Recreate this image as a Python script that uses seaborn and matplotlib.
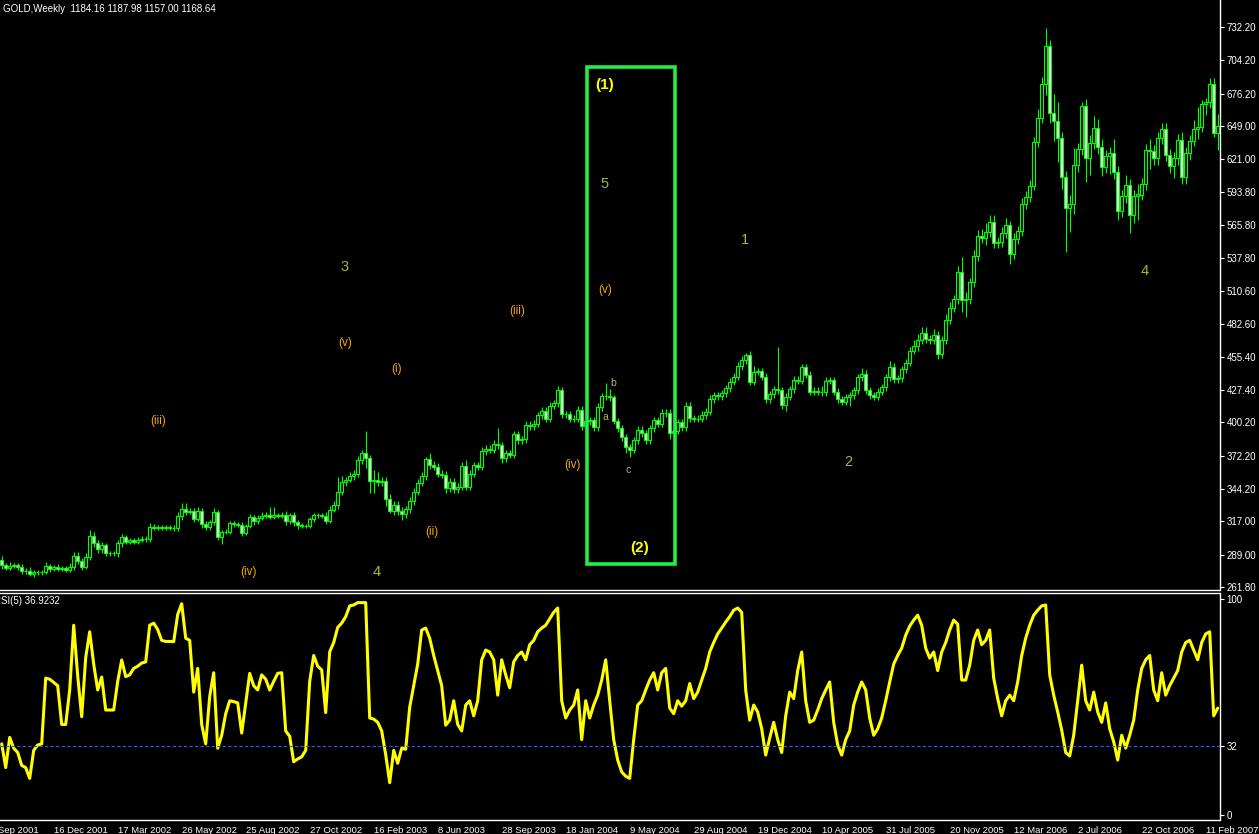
import numpy as np
import pandas as pd
import matplotlib
matplotlib.use("Agg")
import matplotlib.pyplot as plt
import seaborn as sns
from matplotlib.patches import Rectangle

# ==========================
# Weekly GOLD candles
# ==========================
first_open = 284.5
closes = [
    280, 278, 279.5, 280, 278.5, 275, 275.5, 273, 274, 274,
    274.5, 279.5, 277, 278.5, 277, 277.5, 276.5, 279, 287.8, 284,
    279, 287.3, 304.6, 298.5, 293.5, 297, 290, 290, 290, 298.5,
    303.5, 300, 301, 300, 301.5, 302.5, 302, 312.5, 311.5, 312,
    311.5, 312, 311.5, 311, 321.4, 327.3, 325, 326, 319, 326,
    314.5, 312, 316, 324.5, 304, 308, 308.3, 315.3, 314.5, 314,
    307.5, 313, 320.3, 317, 320, 321.7, 322, 321, 322, 321.5,
    322.5, 317, 322, 316, 313.5, 313, 313, 318.6, 322, 322,
    321.5, 317.5, 326.5, 330.7, 341.3, 350, 352, 355, 357, 368.5,
    374, 370, 351, 352, 350, 351, 336, 325.6, 331, 325.6,
    323, 327, 334, 342, 349.5, 355, 369, 364, 363, 357,
    356, 345, 350, 344, 346, 363.7, 346, 357, 364, 363,
    376, 378, 377, 382, 381, 370, 374, 373, 390, 385,
    386, 398, 397, 399, 406, 410, 403, 414, 416, 427,
    407, 407, 403, 403, 410.5, 397, 401, 402, 396, 413,
    422, 422, 421, 401, 395, 387.5, 379, 377, 385, 394,
    391, 385, 395, 402, 399, 408, 408, 391, 393, 400,
    396, 414, 403.5, 403, 403, 406.3, 409, 419.7, 423, 422,
    424.5, 428.7, 434.3, 438.5, 447.4, 452.5, 456.7, 434.3, 442.7, 443,
    438.5, 419.5, 423.6, 427.8, 427, 414.7, 421.7, 427.8, 435.7, 435,
    446.3, 440, 426, 426.5, 426, 425.5, 435, 435.5, 426, 419.5,
    417.5, 421, 423, 427, 438, 440.7, 427, 423, 421.7, 426,
    429.5, 438, 447, 436.3, 437, 444.6, 450.2, 460.3, 464.2, 469.3,
    474.9, 469.9, 469, 473.5, 457.3, 469.3, 486.1, 495.9, 503.5, 526.1,
    502.9, 503.5, 517.7, 539.8, 556.6, 555, 559.7, 568.1, 550.5, 551.5,
    558.9, 565.9, 541.3, 553.9, 560.8, 583.5, 589.1, 598.9, 635.4, 655.5,
    684.3, 716.2, 660.2, 653.5, 638.7, 606.5, 579.9, 583.5, 616.3, 629.5,
    665.8, 622, 635.1, 647.1, 631.7, 614.9, 623.8, 626.1, 610.7, 577.9,
    590.2, 599.5, 574.3, 590.2, 591.5, 600.3, 628.9, 628, 622, 639.2,
    646.5, 624.7, 615.7, 622, 637.3, 606.5, 626.6, 636.4, 646.5, 647.9,
    667.5, 669.2, 684.3, 642.9, 649.0,
]
wick_up = [
    3, 2, 3, 2, 2, 3, 2, 3, 2, 2,
    2, 3, 2, 2, 3, 2, 2, 3, 3, 3,
    2, 3, 5, 3, 3, 3, 2, 2, 2, 3,
    3, 2, 2, 2, 2, 2, 2, 3, 2, 2,
    2, 2, 2, 2, 3, 5, 5, 2, 2, 3,
    2, 3, 2, 4, 2, 2, 2, 2, 2, 2,
    2, 2, 3, 2, 2, 3, 3, 7, 7, 2,
    2, 3, 2, 3, 2, 2, 2, 2, 2, 2,
    2, 3, 3, 3, 13, 5, 2, 3, 3, 3,
    3, 19, 3, 8, 6, 3, 3, 4, 3, 3,
    3, 3, 3, 3, 3, 3, 2, 5, 4, 3,
    3, 3, 3, 3, 3, 3, 5, 3, 3, 3,
    3, 3, 3, 3, 13, 3, 3, 3, 3, 3,
    3, 3, 3, 3, 3, 3, 3, 3, 3, 4,
    3, 3, 3, 3, 3, 3, 5, 3, 3, 3,
    3, 11, 6, 2, 3, 3, 3, 3, 3, 3,
    3, 3, 3, 3, 3, 3, 3, 3, 5, 3,
    3, 3, 3, 3, 3, 3, 3, 3, 3, 3,
    3, 3, 3, 3, 3, 3, 2, 3, 5, 3,
    3, 3, 3, 3, 36, 3, 3, 3, 3, 3,
    3, 3, 3, 3, 3, 5, 3, 3, 3, 3,
    3, 3, 3, 3, 3, 5, 3, 3, 3, 3,
    3, 3, 5, 3, 3, 3, 3, 3, 5, 5,
    5, 5, 4, 5, 3, 3, 5, 5, 4, 5,
    13, 6, 4, 5, 5, 6, 8, 6, 6, 4,
    5, 6, 3, 5, 4, 5, 5, 5, 4, 8,
    6, 15, 5, 16, 16, 5, 5, 8, 14, 5,
    3, 6, 6, 10, 8, 6, 5, 5, 12, 5,
    5, 8, 5, 5, 9, 5, 5, 9, 5, 5,
    5, 5, 5, 5, 5, 7, 5, 5, 8, 17,
    3, 3, 5, 5, 10,
]
wick_dn = [
    3, 2, 2, 2, 2, 2, 2, 2, 3, 2,
    2, 2, 3, 2, 2, 2, 2, 2, 3, 3,
    3, 2, 3, 3, 3, 3, 2, 2, 2, 3,
    3, 2, 2, 2, 2, 2, 2, 2, 2, 2,
    2, 2, 2, 2, 2, 3, 3, 2, 3, 2,
    3, 2, 2, 2, 3, 6, 2, 2, 2, 2,
    3, 2, 2, 3, 2, 2, 2, 2, 2, 2,
    2, 3, 2, 3, 3, 2, 2, 2, 2, 2,
    2, 3, 2, 2, 3, 2, 3, 2, 3, 3,
    3, 8, 10, 10, 3, 3, 6, 2, 3, 3,
    5, 3, 3, 3, 3, 3, 3, 3, 3, 3,
    3, 4, 3, 3, 3, 3, 3, 3, 3, 3,
    3, 3, 3, 3, 3, 4, 3, 3, 3, 3,
    3, 3, 3, 3, 3, 3, 3, 3, 3, 3,
    3, 3, 3, 3, 3, 3, 8, 3, 3, 3,
    3, 3, 3, 2, 3, 3, 5, 6, 3, 3,
    3, 3, 3, 3, 3, 3, 3, 5, 5, 3,
    3, 3, 3, 3, 3, 3, 3, 3, 3, 3,
    3, 3, 3, 3, 3, 3, 3, 3, 3, 3,
    3, 3, 3, 3, 3, 3, 5, 3, 3, 3,
    3, 3, 3, 3, 3, 3, 3, 3, 3, 3,
    3, 3, 7, 3, 3, 3, 3, 3, 3, 3,
    3, 3, 3, 3, 3, 3, 3, 3, 3, 4,
    3, 3, 3, 3, 4, 3, 3, 3, 3, 4,
    10, 14, 4, 4, 4, 4, 6, 4, 4, 4,
    4, 4, 8, 4, 4, 4, 4, 4, 4, 4,
    4, 9, 9, 17, 20, 10, 37, 20, 8, 6,
    5, 20, 14, 5, 6, 8, 5, 15, 6, 8,
    5, 6, 15, 7, 20, 5, 5, 15, 6, 6,
    5, 5, 6, 10, 6, 6, 6, 6, 4, 8,
    4, 9, 5, 3, 14,
]

# ==========================
# RSI(5) readings
# ==========================
rsi = [
    33, 22, 36, 31, 29, 23, 22, 17, 30, 32.5,
    33, 63.5, 63, 61.5, 60, 42, 42, 58, 88, 64.5,
    45.6, 73, 85, 70, 58, 64, 48.7, 48.7, 48.7, 62,
    71.9, 64.2, 65, 68, 69, 70.5, 71, 88, 89, 86,
    81, 80.5, 80.5, 80.4, 93, 98, 82, 81, 57, 68,
    42, 33, 55, 66, 31, 37, 47, 53, 52.6, 52,
    38, 51.8, 65.7, 60, 58, 65, 63, 58, 62, 65.7,
    66, 39, 36.5, 24.7, 26, 27, 30, 62, 74, 69,
    67.3, 47.5, 75.7, 80, 87, 89, 92, 97, 97.4, 98.5,
    98.5, 98.5, 45, 44.5, 43, 39, 28, 15, 30, 24,
    31, 30.5, 50, 60, 70, 85.8, 86.7, 82, 74, 67,
    60, 41.7, 44, 53, 42, 39, 51, 53, 46, 53,
    72, 76.5, 75.6, 72, 55.6, 72, 65, 59, 71, 74,
    75.6, 72, 79, 81, 85, 86.7, 88, 91, 94, 96,
    53, 45, 48.7, 51, 58, 35, 53, 45, 51, 55.6,
    62.6, 72, 53, 35, 25.5, 20, 18, 17, 35, 51,
    53, 58, 62.6, 66, 58, 66, 68, 49.6, 47, 53,
    50.5, 53, 61, 54, 57, 62.6, 68, 75.6, 80, 84,
    86.7, 89.5, 92, 95, 96, 94, 58, 44, 51, 47.8,
    40, 27.8, 35.7, 43, 35, 29, 46, 57, 54, 67,
    75.6, 53, 43, 44, 48.7, 54, 58, 61.7, 43, 32.5,
    27.8, 35, 39, 51, 57, 61.7, 58, 45, 37, 40,
    45, 53, 61.7, 70, 74, 77.4, 83.4, 87.6, 90.4, 92.7,
    88, 77.4, 72.8, 75.6, 67, 75.6, 80, 85.8, 90.4, 88.5,
    62.6, 62.6, 69.5, 81, 85.8, 79, 81, 85.8, 63.5, 54,
    46, 53, 55.6, 53, 61.7, 74, 82, 88, 92.7, 95,
    97, 97.4, 65, 55.6, 47.8, 39.4, 29, 27.4, 37, 53,
    69.5, 53, 48.7, 57, 47.8, 43, 52, 40, 34, 25.5,
    37, 31, 37, 44, 58, 68, 72, 74, 58, 53,
    66, 55.6, 60, 63.5, 67, 75.6, 80, 81, 76.5, 72,
    80, 84, 85, 46, 49.6,
]
rsi_level = 32

# ==========================
# Axis labels
# ==========================
price_ticks = [261.80, 289.00, 317.00, 344.20, 372.20, 400.20, 427.40, 455.40,
               482.60, 510.60, 537.80, 565.80, 593.80, 621.00, 649.00, 676.20,
               704.20, 732.20]
date_labels = ["9 Sep 2001", "16 Dec 2001", "17 Mar 2002", "26 May 2002",
               "25 Aug 2002", "27 Oct 2002", "16 Feb 2003", "8 Jun 2003",
               "28 Sep 2003", "18 Jan 2004", "9 May 2004", "29 Aug 2004",
               "19 Dec 2004", "10 Apr 2005", "31 Jul 2005", "20 Nov 2005",
               "12 Mar 2006", "2 Jul 2006", "22 Oct 2006", "11 Feb 2007"]
date_bars = [-3, 13, 29, 45, 61, 77, 93, 109, 125, 141, 157, 173, 189, 205,
             221, 237, 253, 269, 285, 301]

# ==========================
# Elliott wave labels
# ==========================
minor_labels = ["(iii)", "(iv)", "(v)", "(i)", "(ii)", "(iii)", "(iv)", "(v)"]
minor_bars = [39, 61.8, 85.8, 98.8, 107.6, 128.8, 142.6, 150.8]
minor_prices = [401.2, 274.4, 466.8, 445.0, 308.0, 493.6, 364.3, 511.3]

wave_labels = ["3", "4", "5", "1", "2", "4"]
wave_bars = [85.8, 93.8, 150.8, 185.8, 211.6, 285.8]
wave_prices = [530.6, 274.4, 600.3, 553.3, 366.8, 527.2]

abc_labels = ["a", "b", "c"]
abc_bars = [150.8, 152.8, 156.6]
abc_prices = [404.6, 433.2, 360.1]

major_labels = ["(1)", "(2)"]
major_bars = [150.8, 159.6]
major_prices = [683.5, 294.6]

box_bars = [146.3, 168.3]
box_prices = [281.1, 698.6]

# ==========================
# Build frames
# ==========================
df = pd.DataFrame({"close": closes, "up": wick_up, "dn": wick_dn, "rsi": rsi})
df["bar"] = np.arange(len(df))
df["open"] = [first_open] + closes[:-1]
df["high"] = df[["open", "close"]].max(axis=1) + df["up"]
df["low"] = df[["open", "close"]].min(axis=1) - df["dn"]
df["bull"] = df["close"] >= df["open"]

# ==========================
# Plot
# ==========================
sns.set_style("dark", {"axes.facecolor": "black", "figure.facecolor": "black"})
plt.rcParams["font.family"] = ["Liberation Sans", "DejaVu Sans"]

W, H = 1259, 834
fig = plt.figure(figsize=(W / 100, H / 100), dpi=100, facecolor="black")
ax1 = fig.add_axes([0, (H - 590) / H, 1219.5 / W, 590 / H])
ax2 = fig.add_axes([0, (H - 820) / H, 1219.5 / W, (820 - 592.5) / H])

green = "#00ff00"
white = "white"

# candles
ax1.vlines(df["bar"], df["low"], df["high"], color=green, lw=0.8, zorder=1)
ax1.bar(df["bar"], (df["close"] - df["open"]).abs(),
        bottom=df[["open", "close"]].min(axis=1), width=0.62,
        color=np.where(df["bull"], "black", white), edgecolor=green,
        linewidth=0.8, zorder=2)

# box around wave (1)-(2)
ax1.add_patch(Rectangle((box_bars[0], box_prices[0]), box_bars[1] - box_bars[0],
                        box_prices[1] - box_prices[0], fill=False,
                        edgecolor="#22ee44", lw=2.6, zorder=3))

for t, x, y in zip(minor_labels, minor_bars, minor_prices):
    ax1.text(x, y, t, color="#f4a800", fontsize=8.5, ha="center", va="center")
for t, x, y in zip(wave_labels, wave_bars, wave_prices):
    ax1.text(x, y, t, color="#9cbf2a", fontsize=10.5, ha="center", va="center")
for t, x, y in zip(abc_labels, abc_bars, abc_prices):
    ax1.text(x, y, t, color="#b4b466", fontsize=7.5, ha="center", va="center")
for t, x, y in zip(major_labels, major_bars, major_prices):
    ax1.text(x, y, t, color="#ffff00", fontsize=11, fontweight="bold",
             ha="center", va="center")

xlim = (-0.425, 304.45)
ax1.set_xlim(xlim)
ax1.set_ylim(259.28, 754.88)
ax1.set_xticks([])
ax1.yaxis.tick_right()
ax1.set_yticks(price_ticks)
ax1.set_yticklabels([f"{v:.2f}" for v in price_ticks])
ax1.tick_params(axis="y", colors=white, labelsize=7, length=3, width=0.8,
                pad=2, direction="out")
ax1.grid(False)
for s in ["left", "top"]:
    ax1.spines[s].set_visible(False)
for s in ["right", "bottom"]:
    ax1.spines[s].set_color(white)
    ax1.spines[s].set_linewidth(1)

# RSI
sns.lineplot(data=df, x="bar", y="rsi", ax=ax2, color="#ffff00", lw=2.2)
ax2.axhline(rsi_level, color="#3355ff", lw=0.8, ls=(0, (3, 2)))
ax2.set_xlim(xlim)
ax2.set_ylim(-2.3, 103.2)
ax2.set_xlabel("")
ax2.set_ylabel("")
ax2.yaxis.tick_right()
ax2.set_yticks([0, rsi_level, 100])
ax2.set_yticklabels(["0", str(rsi_level), "100"])
ax2.tick_params(axis="y", colors=white, labelsize=7, length=3, width=0.8, pad=2)
ax2.set_xticks(date_bars[1:])
ax2.set_xticklabels([])
ax2.tick_params(axis="x", colors=white, length=4, width=0.8, direction="out")
ax2.grid(False)
ax2.spines["left"].set_visible(False)
for s in ["right", "bottom", "top"]:
    ax2.spines[s].set_color(white)
    ax2.spines[s].set_linewidth(1)

for lab, b in zip(date_labels, date_bars):
    ax2.text(b + 0.1, -0.045, lab, transform=ax2.get_xaxis_transform(),
             color=white, fontsize=6.8, ha="left", va="center", clip_on=False)

fig.text(3 / W, 1 - 9 / H, "GOLD,Weekly  1184.16 1187.98 1157.00 1168.64",
         color=white, fontsize=7, ha="left", va="center")
fig.text(-6 / W, 1 - 601 / H, "RSI(5) 36.9232", color=white, fontsize=7,
         ha="left", va="center")

fig.savefig("out.png", dpi=100, facecolor="black")
